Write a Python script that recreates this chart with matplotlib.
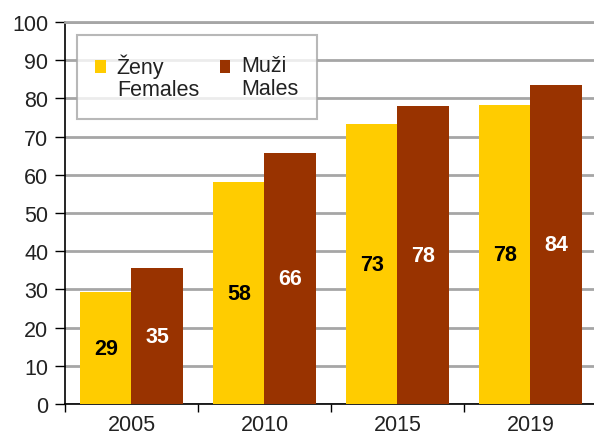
import numpy as np
import matplotlib.pyplot as plt
from matplotlib.patches import Rectangle
from matplotlib.legend_handler import HandlerBase

plt.rcParams['font.family'] = ['Liberation Sans', 'DejaVu Sans']

years = ['2005', '2010', '2015', '2019']
females = [29.3, 58.1, 73.2, 78.3]
males = [35.5, 65.7, 78.0, 83.6]
female_labels = ['29', '58', '73', '78']
male_labels = ['35', '66', '78', '84']
colors = ['#FFCC00', '#993300']
legend_labels = ['Ženy\nFemales', 'Muži\nMales']


class TopSquare(HandlerBase):
    # square marker next to the first line of a two-line label
    def create_artists(self, legend, orig_handle, xdescent, ydescent,
                       width, height, fontsize, trans):
        r = Rectangle((-xdescent, -ydescent + 0.5 * fontsize), width, height,
                      facecolor=orig_handle.get_facecolor(), edgecolor='none',
                      transform=trans)
        return [r]


fig = plt.figure(figsize=(5.94, 4.39), dpi=100)
ax = fig.add_axes([0.1094, 0.0774, 0.8956, 0.8702])

x = np.arange(len(years))
w = 0.385
b1 = ax.bar(x - w / 2, females, w, color=colors[0], zorder=3)
b2 = ax.bar(x + w / 2, males, w, color=colors[1], zorder=3)

ax.bar_label(b1, labels=female_labels, label_type='center', fontsize=15.5,
             fontweight='bold', color='black')
ax.bar_label(b2, labels=male_labels, label_type='center', fontsize=15.5,
             fontweight='bold', color='white')

ax.set_xlim(-0.5, 3.5)
ax.set_ylim(0, 100)
ax.set_yticks(range(0, 101, 10))
ax.yaxis.grid(True, color='#a6a6a6', linewidth=2, zorder=0)
ax.set_axisbelow(True)

ax.set_xticks(x)
ax.set_xticklabels(years)
ax.set_xticks(np.arange(-0.5, 4, 1), minor=True)
ax.tick_params(axis='x', which='major', length=0, labelsize=15.5, pad=7, colors='#222222')
ax.tick_params(axis='x', which='minor', length=6, width=1, color='black')
ax.tick_params(axis='y', length=7, width=1, labelsize=15.5, pad=5, labelcolor='#222222')

ax.spines['right'].set_visible(False)
ax.spines['top'].set_color('#a6a6a6')
ax.spines['top'].set_linewidth(2)
ax.spines['left'].set_linewidth(1.2)
ax.spines['bottom'].set_linewidth(1.2)

handles = [Rectangle((0, 0), 1, 1, facecolor=c) for c in colors]
leg = ax.legend(handles, legend_labels, loc='upper left',
                bbox_to_anchor=(0.0226, 0.966), borderaxespad=0,
                ncol=2, fontsize=15.5, handlelength=0.5, handleheight=0.5,
                handletextpad=0.5, columnspacing=0.95, fancybox=False,
                borderpad=0.85, labelspacing=0.3,
                handler_map={Rectangle: TopSquare()})
leg.get_frame().set_edgecolor('#a6a6a6')
leg.get_frame().set_linewidth(1.5)
for t in leg.get_texts():
    t.set_color('#222222')
    t.set_linespacing(1.1)

fig.savefig('out.png', dpi=100)
